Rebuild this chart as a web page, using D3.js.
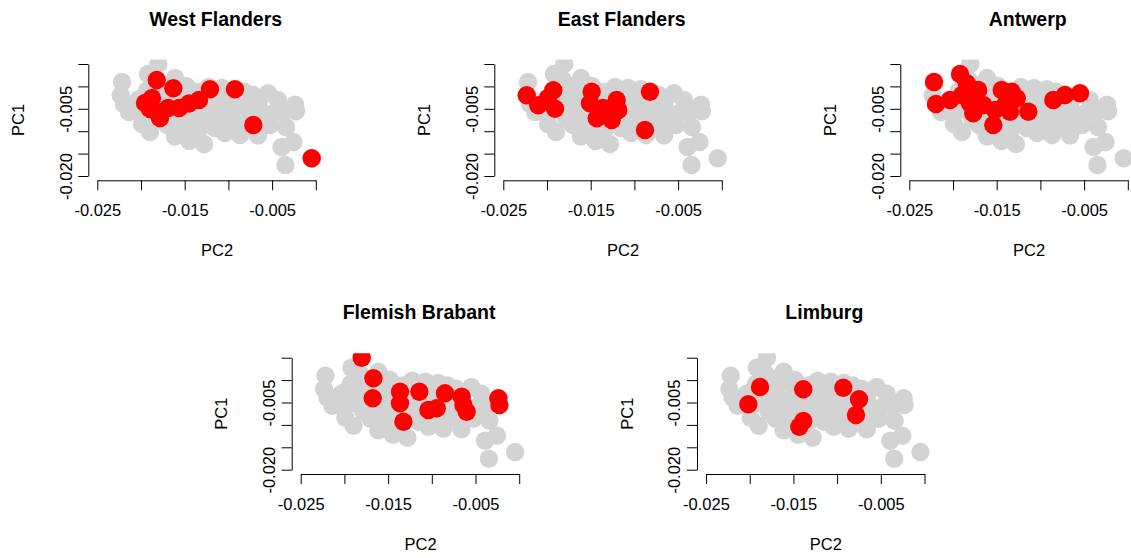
<!DOCTYPE html>
<html>
<head>
<meta charset="utf-8">
<script src="https://cdn.jsdelivr.net/npm/d3@7"></script>
<style>
    body { margin: 0; background: #fff; }
    svg { display: block; }
    text { font-family: "Liberation Sans", Arial, Helvetica, sans-serif; fill: #000; }
</style>
</head>
<body>
<svg id="chart" width="1131" height="558"></svg>
<script>
// Samples per province, [PC2, PC1]
const westFlanders = [
    [-0.01820, 0.00143], [-0.01630, -0.00042], [-0.01211, -0.00065], [-0.00925, -0.00065],
    [-0.00715, -0.00862], [-0.00047, -0.01605], [-0.01954, -0.00371], [-0.01897, -0.00504],
    [-0.01817, -0.00571], [-0.01783, -0.00705], [-0.01691, -0.00482], [-0.01565, -0.00482],
    [-0.01451, -0.00382], [-0.01336, -0.00304], [-0.01874, -0.00259]
];
const eastFlanders = [
    [-0.02232, -0.00199], [-0.01928, -0.00087], [-0.02100, -0.00422], [-0.01908, -0.00498],
    [-0.01989, -0.00259], [-0.01489, -0.00118], [-0.01508, -0.00377], [-0.01431, -0.00712],
    [-0.01260, -0.00750], [-0.01203, -0.00304], [-0.01184, -0.00527], [-0.01359, -0.00482],
    [-0.00822, -0.00118], [-0.00879, -0.00973]
];
const antwerp = [
    [-0.02217, 0.00098], [-0.02195, -0.00393], [-0.01920, 0.00277], [-0.02034, -0.00304],
    [-0.01897, -0.00192], [-0.01843, 0.00069], [-0.01711, -0.00080], [-0.01806, -0.00377],
    [-0.01768, -0.00600], [-0.01653, -0.00415], [-0.01539, -0.00862], [-0.01519, -0.00527],
    [-0.01443, -0.00080], [-0.01328, -0.00118], [-0.01405, -0.00415], [-0.01271, -0.00266],
    [-0.01348, -0.00565], [-0.01138, -0.00565], [-0.00852, -0.00304], [-0.00719, -0.00192],
    [-0.00547, -0.00154]
];
const flemishBrabant = [
    [-0.01802, 0.00500], [-0.01668, 0.00040], [-0.01676, -0.00406], [-0.01364, -0.00259],
    [-0.01364, -0.00518], [-0.01325, -0.00929], [-0.01142, -0.00259], [-0.01039, -0.00667],
    [-0.00944, -0.00629], [-0.00849, -0.00295], [-0.00658, -0.00371], [-0.00638, -0.00556],
    [-0.00601, -0.00705], [-0.00238, -0.00406], [-0.00227, -0.00556]
];
const limburg = [
    [-0.01882, -0.00154], [-0.02016, -0.00540], [-0.01387, -0.00205], [-0.01387, -0.00913],
    [-0.01433, -0.01040], [-0.00929, -0.00170], [-0.00749, -0.00429], [-0.00784, -0.00779]
];
// samples shown only in grey
const otherSamples = [
    [-0.01897, -0.01018], [-0.01611, -0.01118], [-0.01445, -0.01219], [-0.01279, -0.01286],
    [-0.01039, -0.01040], [-0.00867, -0.01085], [-0.00661, -0.01096], [-0.00490, -0.00605],
    [-0.00341, -0.00906], [-0.00392, -0.01353], [-0.00255, -0.01241], [-0.00347, -0.01754],
    [-0.01222, -0.00013], [-0.01989, -0.00839], [-0.02137, -0.00571], [-0.01153, -0.00929],
    [-0.00982, -0.00795], [-0.00524, -0.00862], [-0.00433, -0.00304], [-0.00375, -0.00594],
    [-0.01039, -0.00371], [-0.01703, -0.00862], [-0.01554, -0.00705], [-0.00787, -0.00527],
    [-0.00638, -0.00906], [-0.01073, -0.00036], [-0.01485, 0.00009], [-0.01611, 0.00188]
];

const provinces = ["West Flanders", "East Flanders", "Antwerp", "Flemish Brabant", "Limburg"];
const provinceSamples = [westFlanders, eastFlanders, antwerp, flemishBrabant, limburg];
const allSamples = [].concat(westFlanders, eastFlanders, antwerp, flemishBrabant, limburg, otherSamples);

const xTicks = [-0.025, -0.020, -0.015, -0.010, -0.005, 0.000];
const xTickLabels = [-0.025, -0.015, -0.005];
const yTicks = [-0.020, -0.015, -0.010, -0.005, 0.000, 0.005];
const yTickLabels = [-0.020, -0.005];

// panel offsets (top row of three, bottom row of two)
const panelPos = [[0, 0], [406, 0], [812, 0], [203.4, 293.7], [608.7, 293.7]];

// plot region inside one panel
const plotLeft = 88.3, plotRight = 346, plotTop = 59.5, plotBottom = 180.3;

const x = d3.scaleLinear().domain([-0.025, 0]).range([97.3, 315.8]);
const y = d3.scaleLinear().domain([-0.020, 0.005]).range([176, 64]);

const fmt = d => d.toFixed(3);
const svg = d3.select('#chart');

provinces.forEach((name, i) => {
    const g = svg.append('g')
        .attr('transform', `translate(${panelPos[i][0]},${panelPos[i][1]})`);

    g.append('clipPath')
        .attr('id', 'clip' + i)
        .append('rect')
        .attr('x', plotLeft)
        .attr('y', plotTop)
        .attr('width', plotRight - plotLeft)
        .attr('height', plotBottom - plotTop);

    const pts = g.append('g').attr('clip-path', `url(#clip${i})`);

    pts.selectAll('circle.all')
        .data(allSamples)
        .enter()
        .append('circle')
        .attr('class', 'all')
        .attr('cx', d => x(d[0]))
        .attr('cy', d => y(d[1]))
        .attr('r', 9.2)
        .style('fill', 'lightgray');

    pts.selectAll('circle.prov')
        .data(provinceSamples[i])
        .enter()
        .append('circle')
        .attr('class', 'prov')
        .attr('cx', d => x(d[0]))
        .attr('cy', d => y(d[1]))
        .attr('r', 9.2)
        .style('fill', 'red');

    // x axis
    const xa = g.append('g')
        .attr('transform', `translate(0,${plotBottom})`)
        .call(d3.axisBottom(x)
            .tickValues(xTicks)
            .tickSize(10)
            .tickSizeOuter(0)
            .tickPadding(14)
            .tickFormat(d => xTickLabels.some(v => Math.abs(v - d) < 1e-9) ? fmt(d) : ''));
    xa.selectAll('text').style('font-size', '16.5px').attr('font-family', null);

    // y axis, labels turned like R's las=0
    const ya = g.append('g')
        .attr('transform', `translate(${plotLeft},0)`)
        .call(d3.axisLeft(y)
            .tickValues(yTicks)
            .tickSize(10)
            .tickSizeOuter(0)
            .tickFormat(d => yTickLabels.some(v => Math.abs(v - d) < 1e-9) ? fmt(d) : ''));
    ya.selectAll('text')
        .attr('transform', 'rotate(-90)')
        .attr('x', 0)
        .attr('y', -16.6)
        .attr('dy', null)
        .attr('text-anchor', 'middle')
        .attr('font-family', null)
        .style('font-size', '16.5px');

    svg.selectAll('.domain, .tick line').style('stroke', '#000');
    svg.selectAll('.tick text').style('fill', '#000');

    // titles
    const cx = (plotLeft + plotRight) / 2;
    g.append('text')
        .attr('x', cx - 1.5)
        .attr('y', 25.5)
        .attr('text-anchor', 'middle')
        .style('font-weight', 'bold')
        .style('font-size', '19.5px')
        .text(name);

    g.append('text')
        .attr('x', cx)
        .attr('y', 256)
        .attr('text-anchor', 'middle')
        .style('font-size', '16.5px')
        .text('PC2');

    g.append('text')
        .attr('transform', `translate(24,${(plotTop + plotBottom) / 2}) rotate(-90)`)
        .attr('text-anchor', 'middle')
        .style('font-size', '16.5px')
        .text('PC1');
});
</script>
</body>
</html>
